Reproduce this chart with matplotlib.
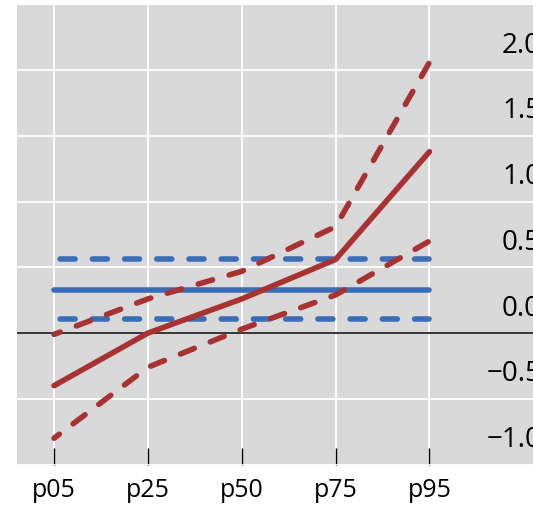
import matplotlib
matplotlib.use("Agg")
import matplotlib.pyplot as plt
import matplotlib.transforms as mtransforms
import numpy as np

plt.rcParams["font.family"] = ["Open Sans", "DejaVu Sans"]

# categories on the x axis
pctiles = ["p05", "p25", "p50", "p75", "p95"]

# red series: estimate and its band
red_est = [-0.40, 0.00, 0.26, 0.56, 1.38]
red_hi = [-0.01, 0.26, 0.47, 0.81, 2.06]
red_lo = [-0.80, -0.26, 0.03, 0.29, 0.70]

# blue series: flat estimate and its band
blue_est = [0.33, 0.33, 0.33, 0.33, 0.33]
blue_hi = [0.56, 0.56, 0.56, 0.56, 0.56]
blue_lo = [0.105, 0.105, 0.105, 0.105, 0.105]

yticks = [-1.0, -0.5, 0.0, 0.5, 1.0, 1.5, 2.0]

# plot colors
c_red = "#a83232"
c_blue = "#3a6db5"
bg = "#d9d9d9"
lw = 4.0

fig = plt.figure(figsize=(5.33, 5.07), dpi=100)
# axes runs past the right edge of the figure, like the original crop
ax = fig.add_axes([16.5 / 533, 42.5 / 507, (548 - 16.5) / 533, 460 / 507])
ax.set_facecolor(bg)
for s in ax.spines.values():
    s.set_visible(False)

x = np.arange(len(pctiles))

ax.axhline(0, color="black", lw=1.1, zorder=2)

dash_b = (4.7, (2.7, 3.1))
dash_r = (1.5, (2.7, 3.1))
ax.plot(x, blue_est, color=c_blue, lw=lw, solid_capstyle="round", zorder=3)
ax.plot(x, blue_hi, color=c_blue, lw=lw, ls=dash_b, dash_capstyle="round", zorder=3)
ax.plot(x, blue_lo, color=c_blue, lw=lw, ls=dash_b, dash_capstyle="round", zorder=3)
ax.plot(x, red_est, color=c_red, lw=lw, solid_capstyle="round", zorder=4)
ax.plot(x, red_hi, color=c_red, lw=lw, ls=dash_r, dash_capstyle="round", zorder=4)
ax.plot(x, red_lo, color=c_red, lw=lw, ls=dash_r, dash_capstyle="round", zorder=4)

ax.set_xlim(-0.4, 4 + (548 - 429.5) / 93.8)
ax.set_ylim(-1.0, 2.5)

ax.set_xticks(x)
ax.set_xticklabels(pctiles)
ax.set_yticks(yticks)
ax.set_yticklabels([f"{v:.1f}".replace("-", "\u2212") for v in yticks])

ax.grid(True, color="white", lw=1.3, zorder=0)
ax.set_axisbelow(True)

ax.tick_params(axis="x", direction="in", length=12.5, width=1.0, color="black",
               pad=10, labelsize=18)
ax.yaxis.tick_right()
ax.tick_params(axis="y", length=0, pad=-5, labelsize=20)

# y labels sit just above their gridline, right aligned inside the panel
offset = mtransforms.ScaledTranslation(0, 17.5 / 100, fig.dpi_scale_trans)
for t in ax.yaxis.get_major_ticks():
    t.label2.set_horizontalalignment("right")
    t.label2.set_verticalalignment("baseline")
    t.label2.set_transform(t.label2.get_transform() + offset)

fig.savefig("out.png", dpi=100)
plt.close()
